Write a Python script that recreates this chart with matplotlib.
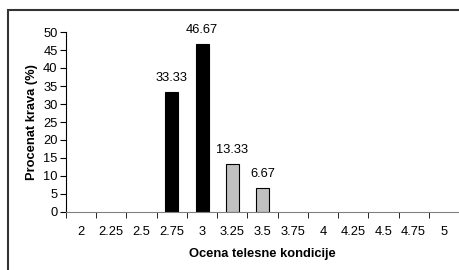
import matplotlib
matplotlib.use("Agg")
import matplotlib.pyplot as plt
import numpy as np
from matplotlib.patches import Rectangle

plt.rcParams['font.family'] = ['Liberation Sans', 'DejaVu Sans']

scores = ["2", "2.25", "2.5", "2.75", "3", "3.25", "3.5", "3.75",
          "4", "4.25", "4.5", "4.75", "5"]
group_a = [0, 0, 0, 33.33, 46.67, 0, 0, 0, 0, 0, 0, 0, 0]
group_b = [0, 0, 0, 0, 0, 13.33, 6.67, 0, 0, 0, 0, 0, 0]

fs = 9.3
fig = plt.figure(figsize=(4.6, 2.7), dpi=100)
ax = fig.add_axes([66/460, 1 - 212/270, 393/460, 180/270])

x = np.arange(len(scores))
w = 0.43
for xi, v in zip(x, group_a):
    if v > 0:
        ax.bar(xi, v, w, color='black', edgecolor='black', linewidth=0.8)
        ax.text(xi, v + 2.2, f"{v:.2f}", ha='center', va='bottom', fontsize=fs)
for xi, v in zip(x, group_b):
    if v > 0:
        ax.bar(xi, v, w, color='#c0c0c0', edgecolor='black', linewidth=0.8)
        ax.text(xi, v + 2.2, f"{v:.2f}", ha='center', va='bottom', fontsize=fs)

ax.set_xlim(-0.5, len(scores) - 0.5)
ax.set_ylim(0, 50)
ax.set_yticks(range(0, 51, 5))
ax.set_xticks(x)
ax.set_xticklabels(scores)
ax.set_xticks(np.arange(-0.5, len(scores), 1), minor=True)
ax.tick_params(axis='x', which='major', length=0, pad=10, labelsize=fs)
ax.tick_params(axis='x', which='minor', length=4, direction='out', color='black')
ax.tick_params(axis='y', length=4, direction='out', labelsize=fs, pad=2)

for s in ['top', 'right']:
    ax.spines[s].set_visible(False)
ax.spines['left'].set_color('black')
ax.spines['bottom'].set_color('#808080')
ax.spines['left'].set_linewidth(0.8)
ax.spines['bottom'].set_linewidth(0.8)

ax.set_ylabel("Procenat krava (%)", fontsize=fs, fontweight='bold', labelpad=4)
ax.set_xlabel("Ocena telesne kondicije", fontsize=fs, fontweight='bold', labelpad=7)

fig.patches.append(Rectangle((8/460, -0.1), 1.0, (260/270) + 0.1,
                             transform=fig.transFigure, fill=False,
                             edgecolor='#333333', linewidth=1.5))

fig.savefig("out.png", dpi=100)
